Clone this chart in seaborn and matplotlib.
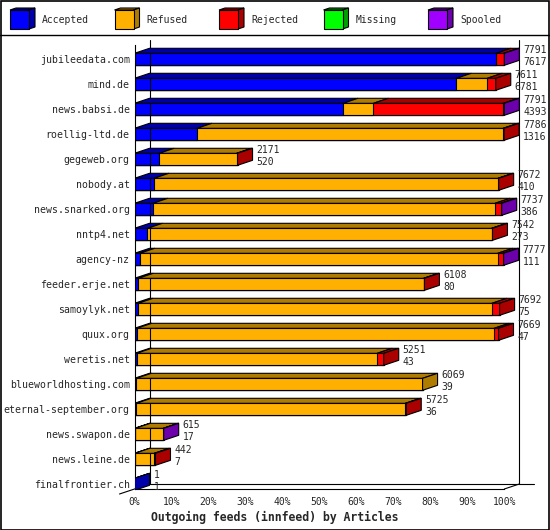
import numpy as np
import pandas as pd
import matplotlib
matplotlib.use('Agg')
import matplotlib.pyplot as plt
import seaborn as sns
from matplotlib.patches import Polygon, Rectangle
from matplotlib.lines import Line2D

hosts = ['jubileedata.com', 'mind.de', 'news.babsi.de', 'roellig-ltd.de', 'gegeweb.org',
         'nobody.at', 'news.snarked.org', 'nntp4.net', 'agency-nz', 'feeder.erje.net',
         'samoylyk.net', 'quux.org', 'weretis.net', 'blueworldhosting.com',
         'eternal-september.org', 'news.swapon.de', 'news.leine.de', 'finalfrontier.ch']
offered = [7791, 7611, 7791, 7786, 2171, 7672, 7737, 7542, 7777, 6108, 7692, 7669, 5251, 6069, 5725, 615, 442, 1]
accepted = [7617, 6781, 4393, 1316, 520, 410, 386, 273, 111, 80, 75, 47, 43, 39, 36, 17, 7, 1]
refused = [0, 650, 640, 6450, 1631, 7248, 7210, 7250, 7540, 6010, 7455, 7530, 5070, 6030, 5670, 588, 408, 0]
rejected = [160, 180, 2740, 20, 20, 14, 120, 19, 110, 18, 162, 92, 138, 0, 19, 0, 27, 0]
missing = [0, 0, 0, 0, 0, 0, 0, 0, 0, 0, 0, 0, 0, 0, 0, 0, 0, 0]
spooled = [14, 0, 18, 0, 0, 0, 21, 0, 16, 0, 0, 0, 0, 0, 0, 10, 0, 0]

series_names = ['Accepted', 'Refused', 'Rejected', 'Missing', 'Spooled']
front_colors = ['#0000ff', '#ffb000', '#ff0000', '#00ff00', '#a000ff']
side_colors = ['#0000aa', '#b07c00', '#aa0000', '#00a000', '#6c00aa']
xticks = [0, 10, 20, 30, 40, 50, 60, 70, 80, 90, 100]

W, H = 550, 530
L, R, T, B = 134.5, 540, 38, 489   # axes box in pixels (from top-left)
PX100 = 369.8                      # pixels for 100%
ROW = 25.0                         # pixels per row
ROW0 = 59.3                        # pixel y of first row centre
DEPTH_X, DEPTH_Y = 15, 5           # 3d depth in pixels
BAR_H = 0.48

sns.set_theme(style='white')
plt.rcParams['font.family'] = ['DejaVu Sans Mono']

def fig_xy(x, y):
    return x / W, 1 - y / H

fig = plt.figure(figsize=(W / 100, H / 100), dpi=100)
ax = fig.add_axes([L / W, 1 - B / H, (R - L) / W, (B - T) / H])
ax.patch.set_alpha(0)

# percent of the biggest feed, stacked
scale = max(offered)
segs = np.array([accepted, refused, rejected, missing, spooled], dtype=float).T / scale * 100
cum = np.cumsum(segs, axis=1)
df = pd.DataFrame(cum, columns=series_names)
df['host'] = hosts

for k in reversed(range(len(series_names))):
    sns.barplot(data=df, x=series_names[k], y='host', orient='h', color=front_colors[k],
                saturation=1, width=BAR_H, edgecolor='black', linewidth=0.8, ax=ax)

xmax = (R - L) / PX100 * 100
ybot = (B - ROW0) / ROW
ytop = -(ROW0 - T) / ROW
ax.set_xlim(0, xmax)
ax.set_ylim(ybot, ytop)
dx = DEPTH_X / PX100 * 100
dy = DEPTH_Y / ROW

# top faces and end caps
for i in range(len(hosts)):
    yt = i - BAR_H / 2
    left = 0.0
    last = None
    for k in range(len(series_names)):
        right = cum[i, k]
        if segs[i, k] > 0:
            ax.add_patch(Polygon([(left, yt), (right, yt), (right + dx, yt - dy), (left + dx, yt - dy)],
                                 closed=True, facecolor=side_colors[k], edgecolor='black',
                                 linewidth=0.8, zorder=3))
            last = k
        left = right
    if last is not None:
        r = cum[i, -1]
        ax.add_patch(Polygon([(r, yt), (r + dx, yt - dy), (r + dx, yt + BAR_H - dy), (r, yt + BAR_H)],
                             closed=True, facecolor=side_colors[last], edgecolor='black',
                             linewidth=0.8, zorder=3))
    xt = cum[i, -1] + dx + 4 / PX100 * 100
    ax.text(xt, i - 0.36, str(offered[i]), fontsize=7, ha='left', va='center', clip_on=False)
    ax.text(xt, i + 0.09, str(accepted[i]), fontsize=7, ha='left', va='center', clip_on=False)

# frame: back wall and floor
line_kw = dict(color='black', linewidth=0.8, clip_on=False, zorder=1)
yback = ybot - dy
ywall = -(ROW0 - 40) / ROW
ax.plot([dx, dx], [yback, ywall], **line_kw)
ax.plot([100 + dx, 100 + dx], [yback, ywall], **line_kw)
ax.plot([dx, 100 + 2 * dx], [yback, yback], **line_kw)
ax.plot([100, 100 + dx], [ybot, yback], **line_kw)
ax.plot([-dx, dx], [ybot + dy, yback], **line_kw)

for side in ['top', 'right']:
    ax.spines[side].set_visible(False)
for side in ['bottom', 'left']:
    ax.spines[side].set_color('black')
    ax.spines[side].set_linewidth(0.8)
ax.spines['bottom'].set_bounds(0, 100)
ax.spines['left'].set_bounds(ybot, -(ROW0 - 45) / ROW)

ax.set_xticks(xticks)
ax.set_xticklabels([f'{t}%' for t in xticks])
ax.tick_params(axis='x', direction='out', length=3, width=0.8, color='black', pad=3, labelsize=7)
ax.tick_params(axis='y', length=0, pad=3.5, labelsize=7.1)
ax.set_ylabel('')
ax.set_xlabel('Outgoing feeds (innfeed) by Articles', fontsize=8.3, fontweight='bold', va='center')
ax.xaxis.set_label_coords((274.5 - L) / (R - L), -(517 - B) / (B - T))

# legend with little cubes
for k, name in enumerate(series_names):
    x0 = 10 + 104.5 * k
    sq = [fig_xy(x0, 10), fig_xy(x0 + 19, 10), fig_xy(x0 + 19, 29), fig_xy(x0, 29)]
    top = [fig_xy(x0, 10), fig_xy(x0 + 19, 10), fig_xy(x0 + 25, 8), fig_xy(x0 + 6, 8)]
    side = [fig_xy(x0 + 19, 10), fig_xy(x0 + 25, 8), fig_xy(x0 + 25, 27), fig_xy(x0 + 19, 29)]
    for pts, col in [(top, side_colors[k]), (side, side_colors[k]), (sq, front_colors[k])]:
        fig.add_artist(Polygon(pts, closed=True, facecolor=col, edgecolor='black',
                               linewidth=0.8, transform=fig.transFigure))
    tx, ty = fig_xy(x0 + 32, 20)
    fig.text(tx, ty, name, fontsize=7, ha='left', va='center')

fig.add_artist(Line2D([0, 1], [1 - 35 / H, 1 - 35 / H], color='black', linewidth=1,
                      transform=fig.transFigure))
fig.add_artist(Rectangle((0.5 / W, 0.5 / H), (W - 1.5) / W, (H - 1.5) / H, fill=False,
                         edgecolor='black', linewidth=1.2, transform=fig.transFigure))

fig.savefig('out.png', dpi=100)
